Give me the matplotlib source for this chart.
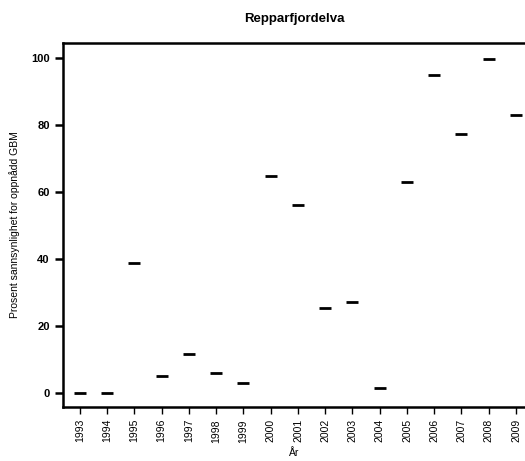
import matplotlib
matplotlib.use('Agg')
import matplotlib.pyplot as plt

plt.rcParams['font.family'] = ['Liberation Sans', 'DejaVu Sans']

years = list(range(1993, 2010))
probability = [0.0, 0.0, 38.7, 5.0, 11.4, 5.8, 2.8, 64.9, 56.2,
               25.4, 27.0, 1.5, 63.1, 95.1, 77.3, 99.8, 82.9]
y_ticks = [0, 20, 40, 60, 80, 100]

fig = plt.figure(figsize=(5.25, 4.61), dpi=100)
ax = fig.add_axes([0.12, 0.118, 0.88, 0.789])

ax.plot(years, probability, linestyle='none', marker='_', color='black',
        markersize=8.5, markeredgewidth=2.0)

ax.set_xlim(1992.38, 2009.33)
ax.set_ylim(-4.2, 104.6)
ax.set_xticks(years)
ax.set_xticklabels([str(y) for y in years], rotation=90, fontsize=7.5)
ax.set_yticks(y_ticks)
ax.set_yticklabels([str(v) for v in y_ticks], fontsize=8, fontweight='bold')

ax.spines['right'].set_visible(False)
for side in ['left', 'top', 'bottom']:
    ax.spines[side].set_linewidth(1.8)
ax.tick_params(axis='y', length=6, width=1.8, pad=3.5)
ax.tick_params(axis='x', length=5, width=1, pad=4)

ax.set_title('Repparfjordelva', fontsize=9.5, fontweight='bold', pad=15)
ax.set_xlabel('År', fontsize=7.5, labelpad=4)
ax.set_ylabel('Prosent sannsynlighet for oppnådd GBM', fontsize=7.5, labelpad=8)

fig.savefig('out.png', dpi=100)
